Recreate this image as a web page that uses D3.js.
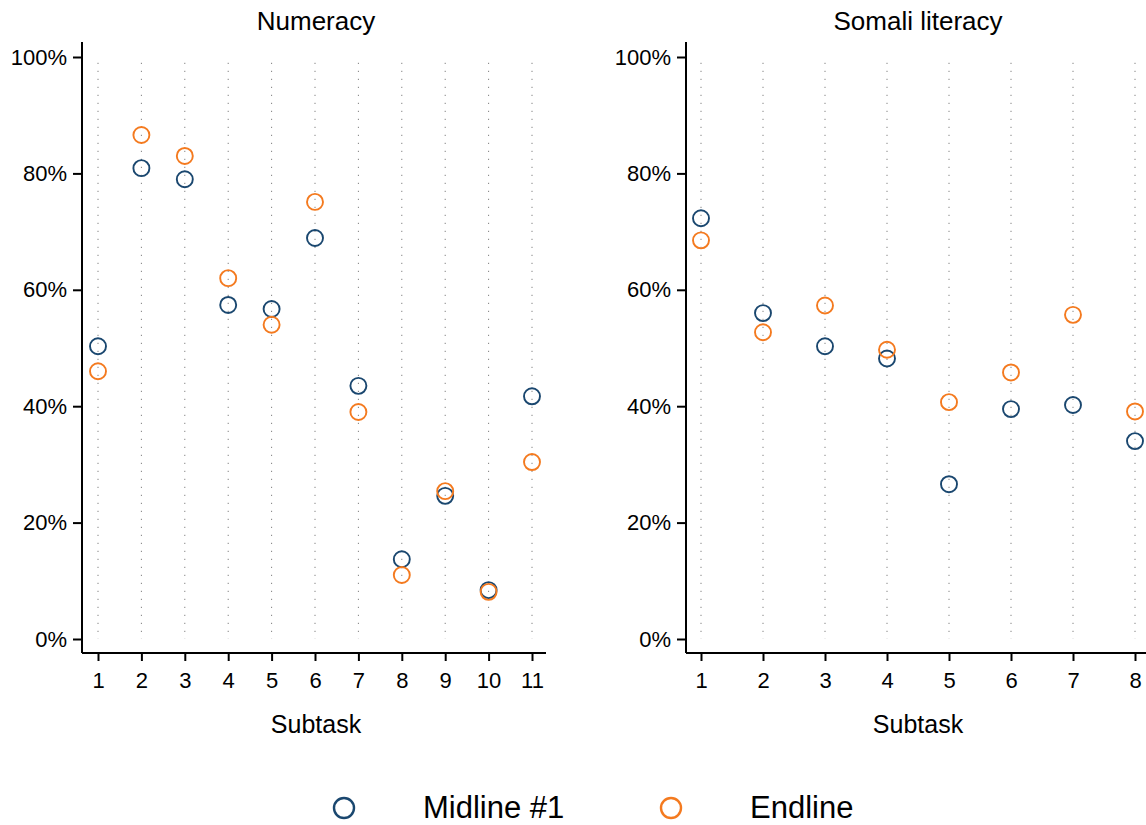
<!DOCTYPE html>
<html><head><meta charset="utf-8">
<script src="https://cdn.jsdelivr.net/npm/d3@7"></script>
<style>body{margin:0;background:#fff;}svg{display:block;font-family:"Liberation Sans",Arial,sans-serif;}</style>
</head><body>
<svg id="c" width="1146" height="825"></svg>
<script>
const numSubtasks = [1,2,3,4,5,6,7,8,9,10,11];
const numMidline = [50.3,80.9,79.0,57.4,56.7,68.9,43.5,13.7,24.6,8.4,41.7];
const numEndline = [46.0,86.6,83.0,62.0,54.0,75.1,39.0,11.0,25.4,8.1,30.4];
const somSubtasks = [1,2,3,4,5,6,7,8];
const somMidline = [72.3,56.0,50.3,48.2,26.6,39.5,40.2,34.0];
const somEndline = [68.5,52.7,57.3,49.7,40.7,45.8,55.7,39.1];
const yTicks = [0,20,40,60,80,100];
const seriesNames = ["Midline #1","Endline"];
const colors = ["#1a476f","#f47a1f"];

const svg = d3.select("#c");

function panel(opt){
  const g = svg.append("g");
  const x = d3.scaleLinear().domain(opt.xdom).range(opt.xrange);
  const y = d3.scaleLinear().domain([0,100]).range([639,57]);
  g.selectAll("line.grid").data(opt.subtasks).join("line")
    .attr("x1",d=>x(d)).attr("x2",d=>x(d)).attr("y1",y(99)).attr("y2",y(0))
    .attr("stroke","#666").attr("stroke-width",1).attr("stroke-dasharray","1,7");
  const ya = d3.axisLeft(y).tickValues(yTicks).tickFormat(d=>d+"%").tickSize(9).tickPadding(6);
  const yg = g.append("g").attr("transform",`translate(${opt.xrange0},0)`).call(ya);
  yg.attr("font-family",null).attr("font-size",null);
  yg.select(".domain").attr("d",`M0,42V653`).attr("stroke","#000").attr("stroke-width",2);
  yg.selectAll(".tick line").attr("stroke","#000").attr("stroke-width",2);
  yg.selectAll(".tick text").attr("font-size",22).attr("fill","#000");
  const xa = d3.axisBottom(x).tickValues(opt.subtasks).tickFormat(d3.format("d")).tickSize(8).tickPadding(11);
  const xg = g.append("g").attr("transform",`translate(0,653)`).call(xa);
  xg.attr("font-family",null).attr("font-size",null);
  xg.select(".domain").attr("d",`M${opt.xrange0},0H${opt.xend}`).attr("stroke","#000").attr("stroke-width",2);
  xg.selectAll(".tick line").attr("stroke","#000").attr("stroke-width",2);
  xg.selectAll(".tick text").attr("font-size",22).attr("fill","#000");
  [opt.mid, opt.end].forEach((vals,i)=>{
    g.selectAll(null).data(vals.map((v,j)=>[opt.subtasks[j],v])).join("circle")
      .attr("cx",d=>x(d[0])).attr("cy",d=>y(d[1])).attr("r",8)
      .attr("fill","none").attr("stroke",colors[i]).attr("stroke-width",1.9);
  });
  g.append("text").attr("x",opt.titleX).attr("y",30).attr("text-anchor","middle")
    .attr("font-size",26).text(opt.title);
  g.append("text").attr("x",opt.titleX).attr("y",733).attr("text-anchor","middle")
    .attr("font-size",25).text("Subtask");
}

panel({subtasks:numSubtasks, mid:numMidline, end:numEndline, xdom:[1,11], xrange:[98,532],
  xrange0:82, xend:546, title:"Numeracy", titleX:316});
panel({subtasks:somSubtasks, mid:somMidline, end:somEndline, xdom:[1,8], xrange:[701,1135],
  xrange0:686, xend:1160, title:"Somali literacy", titleX:918});

const leg = svg.append("g");
const legX = [[344,423],[671,750]];
seriesNames.forEach((n,i)=>{
  leg.append("circle").attr("cx",legX[i][0]).attr("cy",808).attr("r",10)
    .attr("fill","none").attr("stroke",colors[i]).attr("stroke-width",2.4);
  leg.append("text").attr("x",legX[i][1]).attr("y",818).attr("font-size",31).text(n);
});
</script>
</body></html>
